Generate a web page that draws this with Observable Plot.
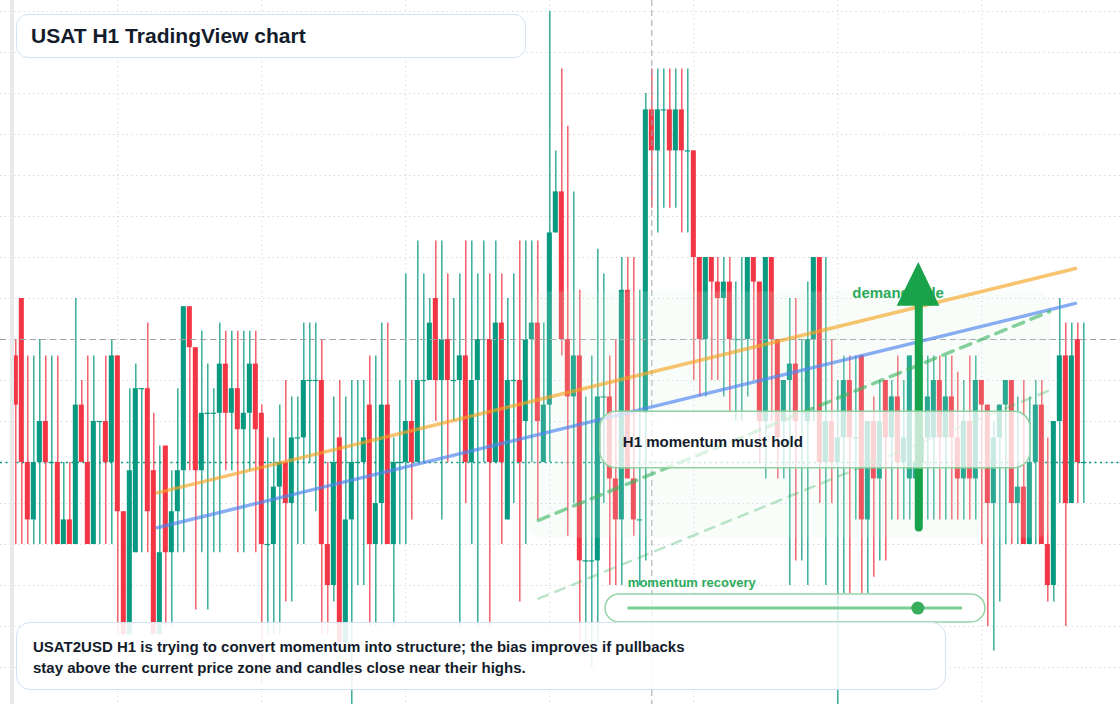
<!DOCTYPE html>
<html>
<head>
<meta charset="utf-8">
<script src="https://cdn.jsdelivr.net/npm/d3@7"></script>
<script src="https://cdn.jsdelivr.net/npm/@observablehq/plot@0.6"></script>
<style>
  html, body { margin: 0; padding: 0; background: #fff; overflow: hidden; }
  #wrap { position: relative; width: 1120px; height: 704px; overflow: hidden; font-family: "Liberation Sans", Arial, sans-serif; }
  #chart svg { display: block; }
  .edge { position: absolute; left: 10px; top: 0; width: 4px; height: 704px; background: #e9e9eb; }
  .title { position: absolute; left: 16px; top: 14px; width: 510px; height: 44px; box-sizing: border-box;
           border: 1.5px solid #d4e2f4; border-radius: 12px; background: #fff; padding-left: 14px;
           font-weight: 700; font-size: 21px; line-height: 41px; color: #131c2b; white-space: nowrap; }
  .caption { position: absolute; left: 16px; top: 622px; width: 930px; height: 68px; box-sizing: border-box;
             border: 1.5px solid #d4e2f4; border-radius: 14px; background: rgba(255,255,255,0.88);
             padding: 13px 0 0 16px; font-weight: 700; font-size: 15px; line-height: 21px; color: #131c2b; white-space: nowrap; }
</style>
</head>
<body>
<div id="wrap">
  <div id="chart"></div>
  <div class="edge"></div>
  <div class="title">USAT H1 TradingView chart</div>
  <div class="caption">USAT2USD H1 is trying to convert momentum into structure; the bias improves if pullbacks<br>stay above the current price zone and candles close near their highs.</div>
</div>
<script>
// Hourly OHLC candles for USAT2USD (one entry per H1 bar)
const open = [
  99.6, 101, 97, 95.6, 97, 98, 97, 97, 95, 95.6,
  95, 98.4, 97, 95, 98, 98, 97, 99.6, 95.8, 92.8,
  94.8, 98.8, 98.8, 96.8, 92.8, 97.4, 94.8, 95.8, 96.8, 100.8,
  99.8, 96.8, 98.2, 98.2, 98.2, 99.4, 98.2, 98.8, 97.8, 98.2,
  99.4, 98.2, 95, 95, 96.4, 97, 96, 97.6, 97.6, 99,
  99, 99, 95, 94, 97.6, 92.6, 95.6, 97, 97, 98.4,
  95, 96, 98.4, 95, 97, 97, 98, 97, 99, 99,
  101, 99, 100, 99, 99, 99.6, 97, 99, 100, 100,
  97, 100.4, 95.6, 99, 99, 98, 100, 100.4, 97, 98.4,
  102.6, 103.6, 100, 98.6, 99.6, 94.6, 94.6, 94.6, 98.6, 98.6,
  96.6, 95.6, 101.2, 96.6, 95.6, 98.2, 105.6, 104.6, 105.6, 105.6,
  104.6, 105.6, 104.6, 104.6, 102, 100, 102, 101.4, 101, 101.4,
  100, 100, 100, 102, 101.4, 98, 102, 100, 98, 99,
  99.4, 100, 98, 100, 102, 97, 98, 97, 97.6, 99,
  97.6, 99.6, 95.6, 98, 96.6, 99, 97.6, 98.6, 97, 96.6,
  96.6, 97, 97.6, 97.6, 99, 97.6, 98.6, 97.6, 96.6, 98,
  96.6, 99, 98.4, 96, 97.6, 98.4, 99, 96, 96.4, 95,
  97, 98.4, 95, 94, 98, 99.6, 96, 100, 97
];
const high = [
  100, 101, 99.6, 99.6, 100, 99.6, 99.6, 99.6, 97, 97,
  101, 99, 99.6, 99.6, 98, 99.6, 100, 99.6, 95.8, 98.8,
  99.4, 98.8, 100.4, 98.2, 97.4, 97.4, 96.8, 98.8, 100.8, 100.8,
  99.8, 100.2, 99.4, 98.8, 100.4, 100.2, 100.2, 100.2, 100.2, 100.2,
  100.2, 98.4, 97.6, 97.6, 98.4, 99, 98.6, 98.6, 100.4, 100.4,
  100.4, 100, 97, 98.6, 99, 98.6, 99, 99, 99, 99.6,
  99.6, 100.4, 100.4, 97.6, 99, 101.6, 99, 102.4, 101.6, 101,
  102.4, 102.4, 101.6, 101, 101.6, 102.4, 102.4, 101.6, 102.4, 101.6,
  102.4, 101.6, 101, 101.6, 102.4, 102.4, 102.4, 102.4, 100.4, 108,
  104.6, 106.6, 105.2, 103.6, 101.2, 98.6, 99.6, 102.2, 101.6, 99.6,
  100, 102, 102, 102, 101.2, 106, 106.6, 106.6, 106.6, 106.6,
  106.6, 106.6, 106.6, 104.6, 102, 102, 102, 102, 102, 102,
  101.4, 102, 102, 102, 101.4, 102, 102, 100, 99, 101,
  101, 100, 101.4, 102, 102, 102, 100, 99, 99.6, 99.6,
  99.6, 99.6, 98, 98.6, 99, 99, 99, 99.6, 99, 99.6,
  99.6, 99.6, 99.6, 99.6, 99.6, 99.6, 99.6, 99.2, 99, 99.6,
  99.6, 99, 98.4, 98, 98.4, 99, 99, 98.6, 99, 98.6,
  99, 99, 97.6, 98, 101, 100.4, 100.4, 100.4, 100.4
];
const low = [
  95, 95, 95, 95, 95, 95, 95, 95, 95, 95,
  95, 97, 95, 95, 95, 95, 95, 92.8, 92.8, 92.8,
  94.8, 94.8, 94.8, 92.8, 92.8, 93, 93, 94.8, 94.8, 96.8,
  93.4, 94.8, 93.4, 94.8, 94.8, 96.8, 96.8, 94.8, 94.8, 96.8,
  94.8, 91.6, 92.8, 92.8, 92.8, 93.6, 93.6, 95, 95, 97,
  95.8, 92.8, 92.8, 93.6, 92.6, 92.6, 90.8, 94, 94, 93,
  93, 95, 95, 93, 95, 95, 95.6, 97, 97, 99,
  98, 95.6, 97, 98, 93, 96, 95, 93, 97, 93,
  97, 95, 95.6, 96, 93.6, 95, 97, 95.6, 97, 97,
  102.6, 99.6, 95.2, 96, 92.6, 92.6, 92, 92.6, 96, 94,
  94, 94, 96.6, 95.2, 94, 94.6, 103.2, 102.6, 103.2, 103.2,
  103.2, 102.6, 102.6, 99, 98.6, 98.6, 99, 99, 98.6, 98.2,
  98, 98, 98.6, 99, 97, 96.6, 98, 96.6, 96.6, 94,
  94.6, 94.6, 94, 98, 96, 94, 96, 90.8, 93.8, 93.8,
  95.6, 93.8, 93.8, 94.2, 94.6, 94.6, 95.6, 95.6, 95.6, 95.6,
  95.6, 95.6, 95.6, 95.6, 95.6, 95.6, 95.6, 95.6, 95.6, 95.6,
  95.6, 95, 93, 92.4, 93.6, 95, 95, 95, 95, 95,
  95, 95, 93.6, 93.6, 96, 93, 96, 96, 96
];
const close = [
  98.4, 97, 95.6, 97, 98, 97, 97, 95, 95.6, 95,
  98.4, 97, 95, 98, 98, 97, 99.6, 95.8, 92.8, 96.8,
  98.8, 98.8, 95.8, 92.8, 94.8, 94.8, 95.8, 96.8, 100.8, 99.8,
  96.8, 98.2, 98.2, 98.2, 99.4, 98.2, 98.8, 97.8, 98.2, 99.4,
  97.8, 95, 95, 96.4, 97, 96, 97.6, 97.6, 99, 99,
  99, 95, 94, 97, 92.6, 95.6, 97, 97, 97.6, 95,
  96, 98.4, 95, 97, 97, 98, 97, 99, 99, 100.4,
  99, 100, 99, 99, 99.6, 97, 99, 100, 100, 97,
  100.4, 97, 99, 99, 97, 100, 100.4, 98, 98.4, 102.6,
  103.6, 100, 98.6, 99.6, 94.6, 94.6, 94.6, 98.6, 98.6, 96.6,
  95.6, 101.2, 96.6, 95.6, 95.6, 105.6, 104.6, 105.6, 105.6, 104.6,
  105.6, 104.6, 104.6, 102, 100, 102, 101.4, 101, 101.4, 100,
  100, 100, 102, 101.4, 98, 102, 100, 97.6, 99, 99.4,
  98, 100, 100, 102, 97, 98, 97, 97.6, 99, 97.6,
  97.6, 95.6, 98, 96.6, 98, 97.6, 98.6, 97, 97.6, 99.6,
  97, 97.6, 98.6, 99, 97.6, 98.6, 97.6, 96.6, 98, 96.6,
  99, 98.4, 96, 97.6, 98.4, 99, 96, 96.4, 95, 97,
  98.4, 95, 94, 98, 99.6, 96, 99.6, 97, 97
];

// Scale furniture: daily separators (bar index) and price grid
const dayTicks = [17, 41, 65, 89, 113, 137, 161];
const priceGrid = [92, 93, 94, 95, 96, 97, 98, 99, 100, 101, 102, 103, 104, 105, 106, 107, 108];
const lastPrice = 97;
const crosshair = {bar: 106, price: 100};

// Drawn studies: two rising trendlines and a dashed recovery channel
const trendX = [23.56, 176.6];
const orangeTrend = [96.26, 101.73];
const blueTrend = [95.41, 100.88];
const channelX = [87.1, 172.3];
const channelUpper = [95.59, 100.68];
const channelLower = [93.68, 98.76];

// Annotation anchors (bar index / price)
const demandZone = {x1: 85.4, x2: 172.6, y1: 95.15, y2: 101.16};
const holdBox = {x1: 97.44, x2: 169.1, y1: 96.86, y2: 98.24, tx: 101.16, ty: 97.49, label: "H1 momentum must hold"};
const demandLabel = {x: 139.4, y: 101.13, label: "demand side"};
const arrowUp = {x: 150.49, base: 95.40, neck: 100.81, tip: 101.88, left: 146.9, right: 154.0};
const recovery = {x1: 98.28, x2: 161.6, y1: 93.10, y2: 93.78, lineX1: 102.0, lineX2: 157.78, y: 93.45, knob: 150.33,
                  tx: 102.0, ty: 94.06, label: "momentum recovery"};

const UP = "#089981", DOWN = "#f23645";
const FONT = "Liberation Sans, Arial, sans-serif";

const candles = open.map((o, i) => ({i, open: o, high: high[i], low: low[i], close: close[i]}));
const rising = candles.filter(d => d.close >= d.open);
const falling = candles.filter(d => d.close < d.open);
const flat = candles.filter(d => d.close === d.open);
const pts = (xs, ys) => xs.map((x, k) => ({x, y: ys[k]}));

const chart = Plot.plot({
  width: 1120,
  height: 704,
  margin: 0,
  x: {domain: [-2.555, 184.11], axis: null},
  y: {domain: [91.098, 108.268], axis: null},
  style: {background: "transparent", overflow: "hidden"},
  marks: [
    // grid
    Plot.ruleY(priceGrid, {stroke: "#cdd1d6", strokeWidth: 1, strokeDasharray: "1.2,3.5"}),
    Plot.ruleX(dayTicks, {stroke: "#cdd1d6", strokeWidth: 1, strokeDasharray: "1.2,3.5"}),
    // last price line
    Plot.ruleY([lastPrice], {stroke: UP, strokeWidth: 1.3, strokeDasharray: "2,3.5"}),
    // candles: wicks, bodies, doji bars
    Plot.ruleX(rising, {x: "i", y1: "low", y2: "high", stroke: UP, strokeWidth: 1.2}),
    Plot.ruleX(falling, {x: "i", y1: "low", y2: "high", stroke: DOWN, strokeWidth: 1.2}),
    Plot.rect(rising, {x1: d => d.i - 0.42, x2: d => d.i + 0.42, y1: "open", y2: "close", fill: UP}),
    Plot.rect(falling, {x1: d => d.i - 0.42, x2: d => d.i + 0.42, y1: "open", y2: "close", fill: DOWN}),
    Plot.ruleY(flat, {y: "open", x1: d => d.i - 0.45, x2: d => d.i + 0.45, stroke: UP, strokeWidth: 1.2}),
    // crosshair
    Plot.ruleY([crosshair.price], {stroke: "#9ea3a8", strokeWidth: 1, strokeDasharray: "6,4"}),
    Plot.ruleX([crosshair.bar], {stroke: "#9ea3a8", strokeWidth: 1, strokeDasharray: "6,4"}),
    // demand zone wash
    Plot.rect([demandZone], {x1: "x1", x2: "x2", y1: "y1", y2: "y2", fill: "#d9f2e1", fillOpacity: 0.17, rx: 16}),
    // trendlines
    Plot.line(pts(trendX, orangeTrend), {x: "x", y: "y", stroke: "#f5a524", strokeOpacity: 0.65, strokeWidth: 3.5}),
    Plot.line(pts(trendX, blueTrend), {x: "x", y: "y", stroke: "#4f86ee", strokeOpacity: 0.68, strokeWidth: 3.5}),
    Plot.line(pts(channelX, channelLower), {x: "x", y: "y", stroke: "#3cb463", strokeOpacity: 0.36, strokeWidth: 2.5, strokeDasharray: "10,8"}),
    Plot.line(pts(channelX, channelUpper), {x: "x", y: "y", stroke: "#3cb463", strokeOpacity: 0.62, strokeWidth: 3.5, strokeDasharray: "11,8"}),
    // demand label and arrow
    Plot.text([demandLabel], {x: "x", y: "y", text: "label", textAnchor: "start", fill: "#2bab5a",
      fontSize: 15, fontWeight: "bold", fontFamily: FONT}),
    Plot.ruleX([arrowUp], {x: "x", y1: "base", y2: "neck", stroke: "#18a24a", strokeWidth: 8, strokeLinecap: "round"}),
    Plot.areaX([
      {y: arrowUp.neck, x1: arrowUp.left, x2: arrowUp.right},
      {y: arrowUp.tip, x1: arrowUp.x, x2: arrowUp.x}
    ], {y: "y", x1: "x1", x2: "x2", fill: "#18a24a"}),
    // "must hold" callout
    Plot.rect([holdBox], {x1: "x1", x2: "x2", y1: "y1", y2: "y2", rx: 16, fill: "white", fillOpacity: 0.74,
      stroke: "#8fd1a0", strokeWidth: 1.5}),
    Plot.text([holdBox], {x: "tx", y: "ty", text: "label", textAnchor: "start", fill: "#131c2b",
      fontSize: 15, fontWeight: "bold", fontFamily: FONT}),
    // momentum recovery slider
    Plot.rect([recovery], {x1: "x1", x2: "x2", y1: "y1", y2: "y2", rx: 14, fill: "white", fillOpacity: 0.78,
      stroke: "#96d4a6", strokeWidth: 1.5}),
    Plot.ruleY([recovery], {y: "y", x1: "lineX1", x2: "lineX2", stroke: "#7dcd93", strokeWidth: 3}),
    Plot.dot([recovery], {x: "knob", y: "y", r: 6.5, fill: "#36ad5b"}),
    Plot.text([recovery], {x: "tx", y: "ty", text: "label", textAnchor: "start", fill: "#2bab5a",
      fontSize: 13, fontWeight: "bold", fontFamily: FONT})
  ]
});
document.getElementById("chart").append(chart);
</script>
</body>
</html>
